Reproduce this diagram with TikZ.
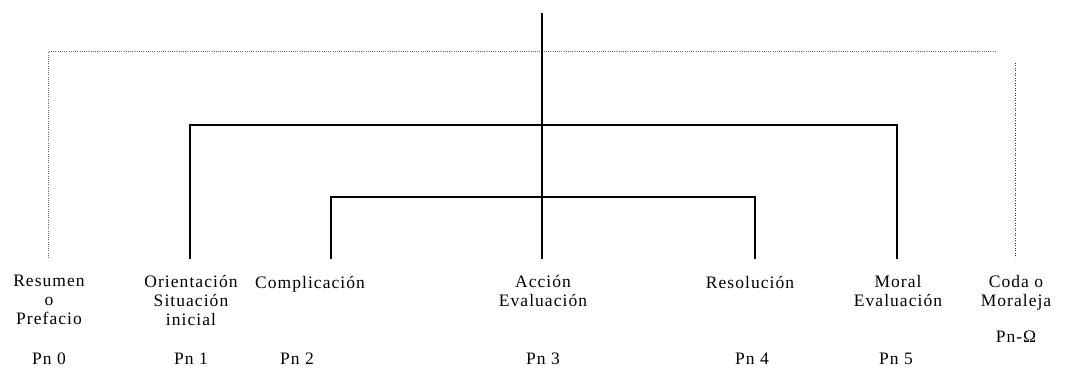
\documentclass[tikz,border=0pt]{standalone}
\usepackage{fontspec}
\setmainfont{Liberation Serif}[LetterSpace=6]
\tikzset{
  lbl/.style={anchor=north,inner sep=0pt,align=center,font=\fontsize{17.5pt}{19pt}\selectfont,execute at begin node=\strut},
  pn/.style={anchor=base,inner sep=0pt,font=\fontsize{17.5pt}{19pt}\selectfont},
  solidln/.style={draw=black,line width=1.2pt},
  dotln/.style={draw=black!80,line width=1pt,dash pattern=on 0.9pt off 1.6pt},
  topln/.style={draw=black!60,line width=1pt,dash pattern=on 1pt off 1.2pt}
}
\begin{document}
\begin{tikzpicture}[x=1pt,y=1pt]
\useasboundingbox (0,0) rectangle (1078,387);
% line feet and corners
\coordinate (top) at (542,374);
\coordinate (f0) at (48,129);
\coordinate (f1) at (190,128);
\coordinate (f2) at (331,128);
\coordinate (f3) at (542,128);
\coordinate (f4) at (755,128);
\coordinate (f5) at (897,128);
\coordinate (f6) at (1015,129);
\coordinate (c1) at (190,262);
\coordinate (c5) at (897,262);
\coordinate (c2) at (331,190);
\coordinate (c4) at (755,190);
\coordinate (dL) at (48,335);
\coordinate (dR) at (995,335);
\coordinate (dRt) at (1015,324);
% labels
\node[lbl] (l0) at (49,112.3) {Resumen\\o\\Prefacio};
\node[lbl] (l1) at (191,112.3) {Orientación\\Situación\\inicial};
\node[lbl] (l2) at (310,112.3) {Complicación};
\node[lbl] (l3) at (543,112.3) {Acción\\Evaluación};
\node[lbl] (l4) at (750,112.3) {Resolución};
\node[lbl] (l5) at (898,112.3) {Moral\\Evaluación};
\node[lbl] (l6) at (1016,112.3) {Coda o\\Moraleja};
\node[pn] (p0) at (49,22.2) {Pn 0};
\node[pn] (p1) at (191,22.2) {Pn 1};
\node[pn] (p2) at (297,22.2) {Pn 2};
\node[pn] (p3) at (543,22.2) {Pn 3};
\node[pn] (p4) at (752,22.2) {Pn 4};
\node[pn] (p5) at (896,22.2) {Pn 5};
\node[pn] (p6) at (1016,44.2) {Pn-Ω};
% connectors
\draw[topln] (f0) -- (dL) -- (dR);
\draw[dotln] (dRt) -- (f6);
\draw[solidln] (f1) -- (c1) -- (c5) -- (f5);
\draw[solidln] (f2) -- (c2) -- (c4) -- (f4);
\draw[solidln] (top) -- (f3);
\end{tikzpicture}
\end{document}
